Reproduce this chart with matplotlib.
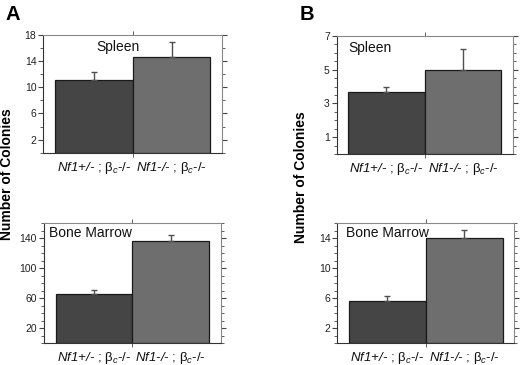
import matplotlib
matplotlib.use("Agg")
import matplotlib.pyplot as plt
from matplotlib.ticker import MultipleLocator

plt.rcParams['font.family'] = ['Liberation Sans', 'DejaVu Sans']
plt.rcParams['mathtext.fontset'] = 'custom'
plt.rcParams['mathtext.rm'] = 'Liberation Sans:italic'
plt.rcParams['mathtext.it'] = 'Liberation Sans:italic'

# data
genotypes = [r'$\text{Nf1+/-}$ ; β$_{c}$-/-',
             r'$\text{Nf1-/-}$ ; β$_{c}$-/-']
spleen_a = [11.1, 14.6]
spleen_a_err = [1.3, 2.4]
marrow_a = [66, 136]
marrow_a_err = [5.5, 8]
spleen_b = [3.65, 5.0]
spleen_b_err = [0.35, 1.2]
marrow_b = [5.7, 14.0]
marrow_b_err = [0.55, 1.15]

bar_colors = ['#454545', '#6e6e6e']

fig = plt.figure(figsize=(5.2, 3.65), dpi=100)


def panel(rect, vals, errs, title, title_x, title_y, title_ha, ylim, yticks, minor):
    ax = fig.add_axes(rect)
    x = [0, 1]
    ax.bar(x, vals, width=1.0, color=bar_colors, edgecolor='#1a1a1a', linewidth=0.9)
    ax.errorbar(x, vals, yerr=[[0, 0], errs], fmt='none', ecolor='#505050',
                elinewidth=1.0, capsize=2.2, capthick=1.0)
    ax.set_xlim(-0.65, 1.65)
    ax.set_ylim(*ylim)
    ax.yaxis.set_minor_locator(MultipleLocator(minor))
    ax.set_yticks(yticks)
    ax.set_xticks(x)
    ax.set_xticklabels(genotypes, fontsize=9.5)
    ax.set_xticks([0.5], minor=True)
    ax.tick_params(axis='x', which='major', length=0, pad=5, colors='#111111')
    ax.tick_params(axis='x', which='minor', length=3, top=True, bottom=True,
                   direction='out', color='#444444')
    ax.tick_params(axis='y', which='both', direction='out', left=True, right=True,
                   labelsize=7.5, color='#444444', labelcolor='#222222', pad=1.5)
    ax.tick_params(axis='y', which='major', length=3.5)
    ax.tick_params(axis='y', which='minor', length=2.5)
    for s in ['left', 'bottom']:
        ax.spines[s].set_color('#333333')
    for s in ['top', 'right']:
        ax.spines[s].set_color('#888888')
    for s in ax.spines.values():
        s.set_linewidth(0.8)
    ax.text(title_x, title_y, title, transform=ax.transAxes, ha=title_ha, va='top',
            fontsize=10, color='#111111')
    return ax


panel([0.0833, 0.5816, 0.3437, 0.3225], spleen_a, spleen_a_err, 'Spleen', 0.42, 0.96,
      'center', (0, 18), [2, 6, 10, 14, 18], 2)
panel([0.0846, 0.0595, 0.3398, 0.3288], marrow_a, marrow_a_err, 'Bone Marrow', 0.03, 0.98,
      'left', (0, 160), [20, 60, 100, 140], 10)
panel([0.6475, 0.5781, 0.3385, 0.3233], spleen_b, spleen_b_err, 'Spleen', 0.065, 0.96,
      'left', (0, 7), [1, 3, 5, 7], 0.5)
panel([0.6487, 0.0595, 0.3404, 0.3288], marrow_b, marrow_b_err, 'Bone Marrow', 0.05, 0.98,
      'left', (0, 16), [2, 6, 10, 14], 1)

fig.text(7 / 520, 0.523, 'Number of Colonies', rotation=90, ha='center', va='center',
         fontsize=10, fontweight='bold')
fig.text(301 / 520, 0.515, 'Number of Colonies', rotation=90, ha='center', va='center',
         fontsize=10, fontweight='bold')
fig.text(12.5 / 520, 1 - 14 / 365, 'A', ha='center', va='center', fontsize=14.5,
         fontweight='bold')
fig.text(307 / 520, 1 - 14 / 365, 'B', ha='center', va='center', fontsize=14.5,
         fontweight='bold')

fig.savefig('out.png', dpi=100)
